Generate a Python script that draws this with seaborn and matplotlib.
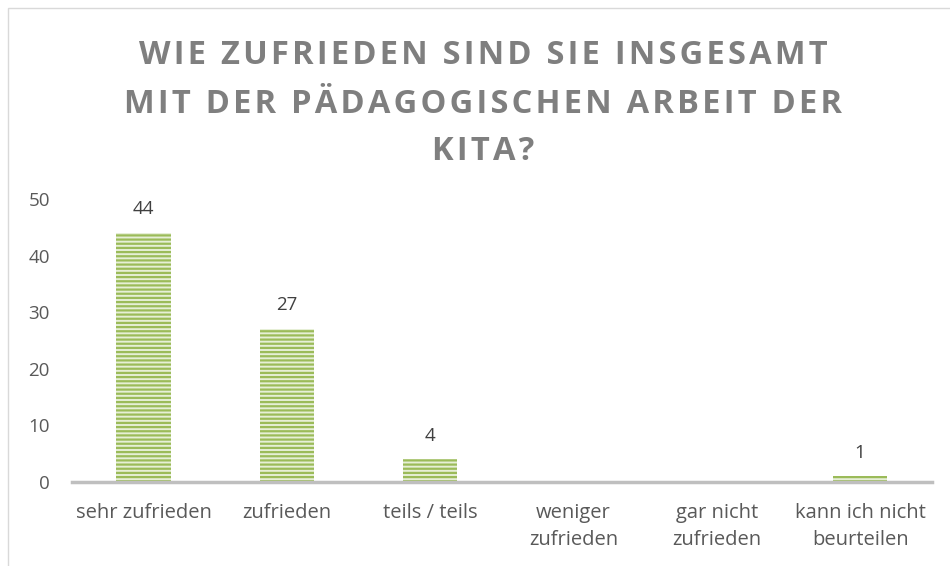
import matplotlib
matplotlib.use("Agg")
import matplotlib.pyplot as plt
import seaborn as sns
import pandas as pd
from matplotlib.patches import Rectangle

# survey answers
categories = ['sehr zufrieden', 'zufrieden', 'teils / teils',
              'weniger\nzufrieden', 'gar nicht\nzufrieden', 'kann ich nicht\nbeurteilen']
counts = [44, 27, 4, 0, 0, 1]
yticks = [0, 10, 20, 30, 40, 50]
title_lines = ['WIE ZUFRIEDEN SIND SIE INSGESAMT',
               'MIT DER PÄDAGOGISCHEN ARBEIT DER',
               'KITA?']

df = pd.DataFrame({'answer': categories, 'count': counts})

sns.set_style('white')
plt.rcParams['font.family'] = ['Open Sans', 'DejaVu Sans']
plt.rcParams['hatch.linewidth'] = 1.6

fig = plt.figure(figsize=(9.5, 5.66), dpi=100)
ax = fig.add_axes([0.0758, 0.1484, 0.905, 0.50])

sns.barplot(data=df, x='answer', y='count', color='#e6efd6', width=0.38,
            ax=ax, saturation=1)
for bar in ax.patches:
    bar.set_hatch('----')
    bar.set_edgecolor('#9bbb59')
    bar.set_linewidth(0)

# value labels (only the bars that have a value)
for i, v in enumerate(counts):
    if v > 0:
        ax.text(i, v + 2.6, str(v), ha='center', va='bottom',
                fontsize=13.5, color='#404040')

ax.set_ylim(0, 50)
ax.set_yticks(yticks)
ax.set_xlim(-0.5, len(categories) - 0.5)
ax.set_xlabel('')
ax.set_ylabel('')
ax.tick_params(axis='y', length=0, labelsize=13.5, labelcolor='#595959', pad=16)
ax.tick_params(axis='x', length=0, labelsize=14.5, labelcolor='#595959', pad=15)
for lab in ax.get_xticklabels():
    lab.set_linespacing(1.5)
for s in ['top', 'right', 'left']:
    ax.spines[s].set_visible(False)
ax.spines['bottom'].set_color('#bfbfbf')
ax.spines['bottom'].set_linewidth(2.5)

# spaced-out title, one line at a time
for line, base in zip(title_lines, [64, 113, 160]):
    fig.text(483 / 950, 1 - base / 566, '\u200a'.join(line),
             ha='center', va='baseline', fontsize=23.5, fontweight='bold',
             color='#7f7f7f')

# outer chart border
fig.patches.append(Rectangle((8 / 950, -0.1), 1.2, 1 - 8 / 566 + 0.1,
                             transform=fig.transFigure, fill=False,
                             edgecolor='#d9d9d9', linewidth=1))

fig.savefig('out.png', dpi=100)
